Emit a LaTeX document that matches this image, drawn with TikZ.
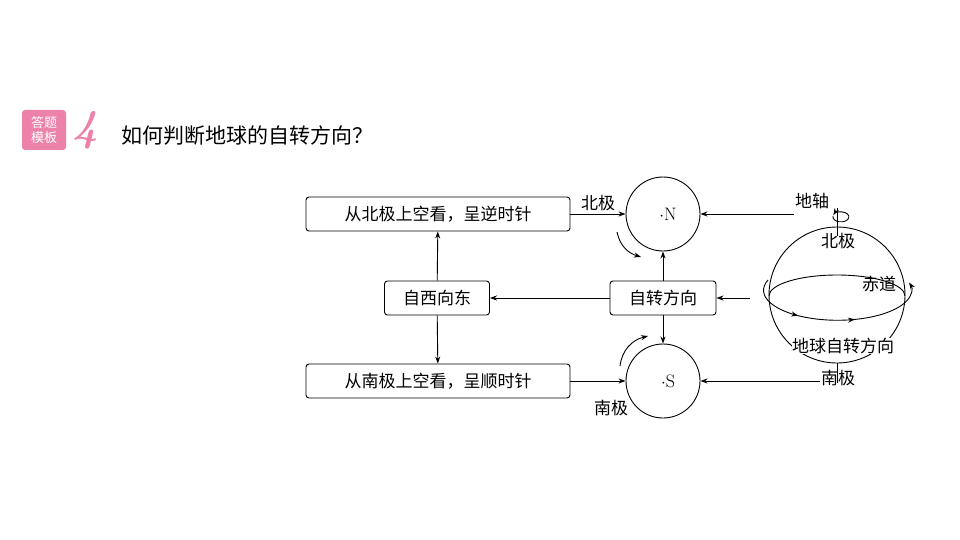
\documentclass[tikz,border=0pt]{standalone}
\usepackage{fontspec}
\newfontfamily\cjk{Noto Sans CJK SC}
\usetikzlibrary{arrows.meta, positioning, decorations.markings}
\definecolor{badge}{RGB}{236,130,170}

\begin{document}
\begin{tikzpicture}[x=1pt, y=-1pt, line width=0.9pt,
                box/.style={draw, rounded corners=3pt, minimum height=34pt, inner xsep=8pt, font=\cjk\fontsize{17}{17}\selectfont},
                pole/.style={circle, draw, minimum size=74pt, inner sep=0pt},
                lbl/.style={font=\cjk\fontsize{17}{17}\selectfont, inner sep=1pt},
                arrow/.style={-{Stealth[length=7pt,width=5pt]}},
                midarrows/.style={postaction={decorate}, decoration={markings,
                    mark=at position 0.3 with {\arrow{Stealth[length=7pt,width=5pt]}},
                    mark=at position 0.6 with {\arrow{Stealth[length=7pt,width=5pt]}}}}
            ]
            \useasboundingbox (0,0) rectangle (960,540);

            % Header
            \node[fill=badge, rounded corners=3pt, minimum width=44pt, minimum height=40pt, inner sep=0pt,
                  text=white, align=center, font=\cjk\fontsize{13}{15}\selectfont] (badge) at (44,130) {答题\\模板};
            \node[text=badge, font=\bfseries\itshape\fontsize{44}{44}\selectfont, right=2pt of badge] (num) {4};
            \node[anchor=west, font=\cjk\fontsize{21}{21}\selectfont] (title) at (118,136) {如何判断地球的自转方向？};

            % Boxes
            \node[box, minimum width=264pt] (fromN) at (438,214) {从北极上空看，呈逆时针};
            \node[box, minimum width=105pt] (we) at (437,298) {自西向东};
            \node[box, minimum width=264pt] (fromS) at (438,381) {从南极上空看，呈顺时针};
            \node[box, minimum width=106pt] (rot) at (663,298) {自转方向};

            % Pole views
            \node[pole] (N) at (663,214) {};
            \node[pole] (S) at (663,381) {};
            \node[font=\fontsize{18}{18}\selectfont] (Nlbl) at (668,214) {$\cdot$N};
            \node[font=\fontsize{18}{18}\selectfont] (Slbl) at (668,381) {$\cdot$S};
            \draw[arrow] (617,232) .. controls (620,246) and (628,253) .. (641,257);
            \draw[arrow] (620,366) .. controls (622,350) and (632,340) .. (648,336);

            % Globe
            \coordinate (G) at (837,295);
            \draw (G) circle[radius=68];
            \draw (769,296) arc[start angle=180, end angle=360, x radius=68, y radius=21];
            \draw (837,208) -- (837,236);
            \draw (837,363) -- (837,383);
            \draw[arrow] (833,216) arc[start angle=190, end angle=-160, x radius=8, y radius=5];
            \draw[arrow, midarrows] (768,280) arc[start angle=200, end angle=-15, x radius=74, y radius=30];
            \node[lbl] (axis) at (812,201) {地轴};
            \node[lbl] (np) at (838,241) {北极};
            \node[lbl] (eq) at (879,284) {赤道};
            \node[lbl, fill=white, inner sep=0pt] (dir) at (843,346) {地球自转方向};
            \node[lbl] (sp) at (838,378) {南极};
            \coordinate (gleft) at (750,298);

            % Connectors
            \draw[arrow] (we) -- (fromN);
            \draw[arrow] (we) -- (fromS);
            \draw[arrow] (rot) -- (we);
            \draw[arrow] (rot) -- (N);
            \draw[arrow] (rot) -- (S);
            \draw[arrow] (fromN) -- node[lbl, above=2pt] {北极} (N);
            \draw[arrow] (fromS) -- (S);
            \node[lbl] (spS) at (611,408) {南极};
            \draw[arrow] (axis.west |- N) -- (N);
            \draw[arrow] (gleft) -- (rot);
            \draw[arrow] (sp.west |- S) -- (S);
\end{tikzpicture}
\end{document}
